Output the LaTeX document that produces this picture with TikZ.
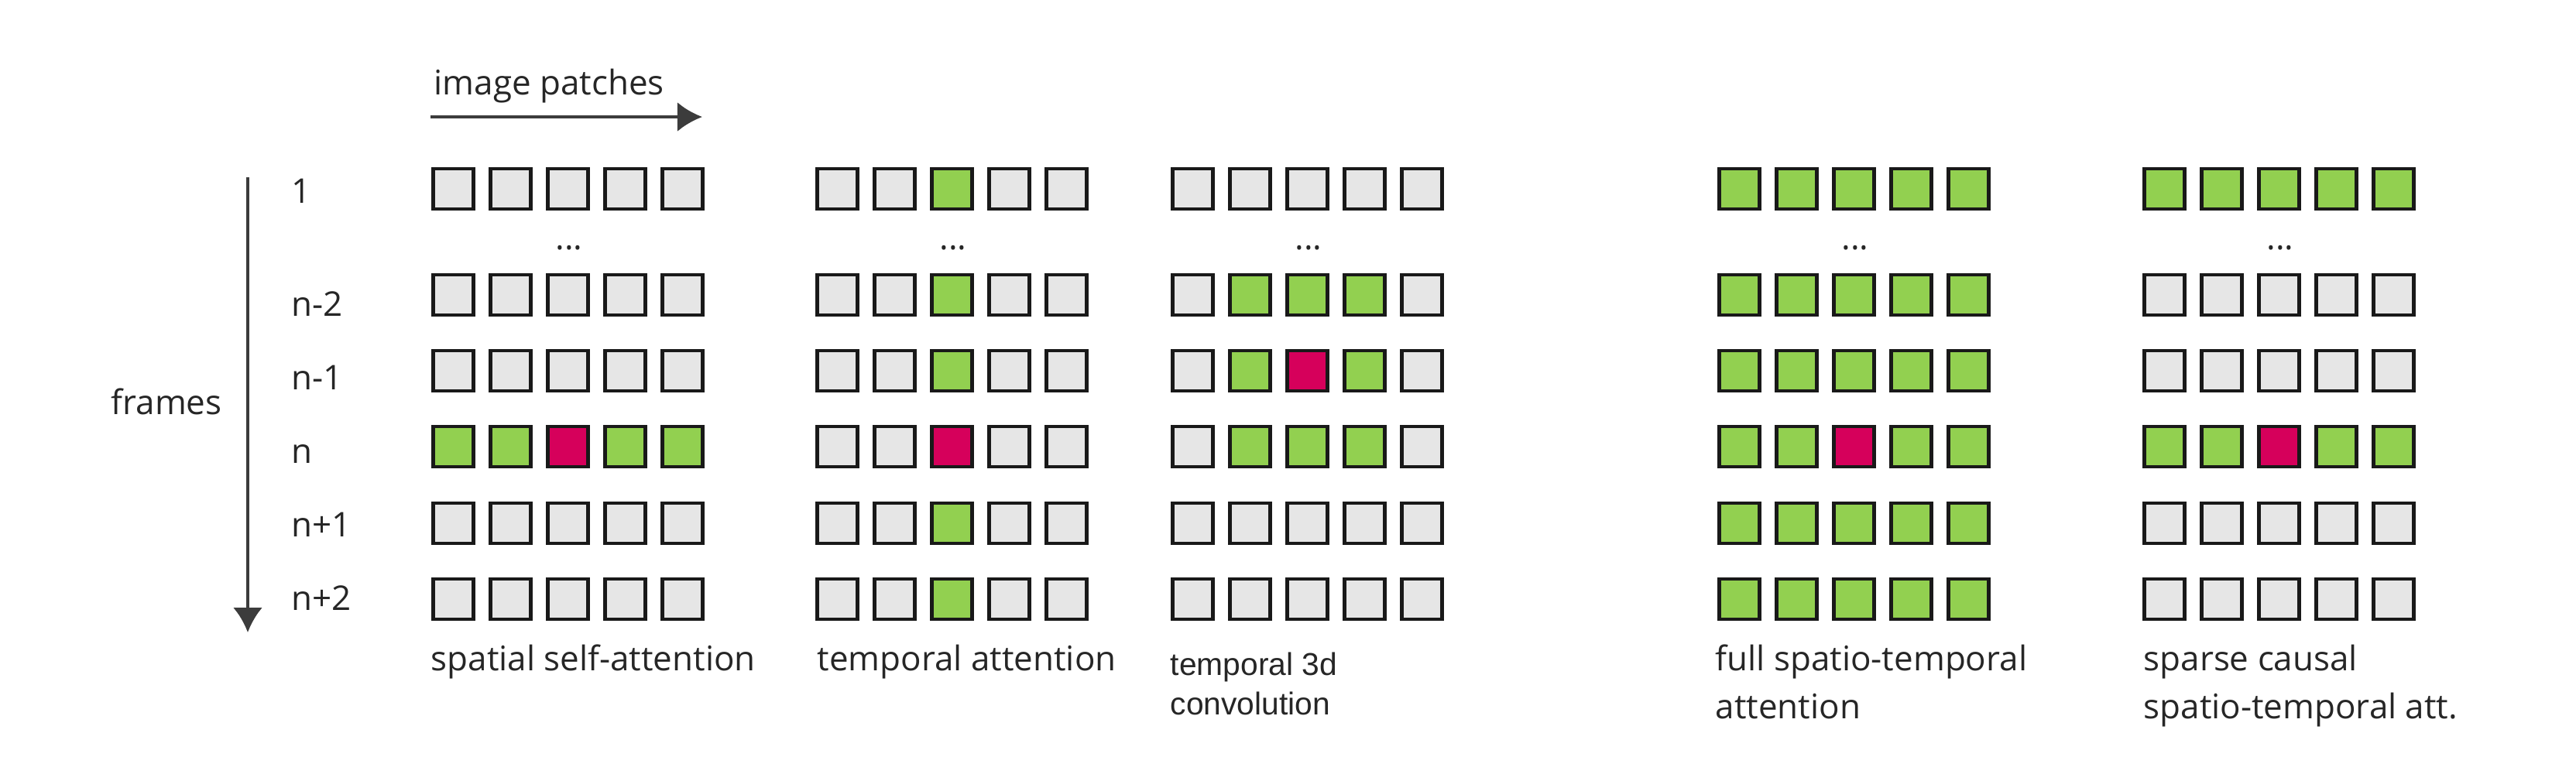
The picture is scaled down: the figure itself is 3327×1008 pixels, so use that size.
\documentclass[tikz,border=0pt]{standalone}
\usepackage{fontspec}
\setmainfont{Open Sans}
\newfontfamily\arialfont{Liberation Sans}
\usetikzlibrary{arrows.meta}

\definecolor{pgray}{HTML}{E6E6E6}
\definecolor{pgreen}{HTML}{92D050}
\definecolor{pred}{HTML}{D6005B}
\definecolor{ink}{HTML}{262626}

% one row of five patches: name, left x, y, colours
\newcommand{\patchrow}[4]{%
  \foreach \col [count=\i] in {#4}
    \node[patch,fill=\col] (#1-\i) at ({#2+28.5+74*(\i-1)},#3) {};}

\begin{document}
\begin{tikzpicture}[x=0.01cm,y=-0.01cm,
    patch/.style={draw=black!90,line width=1.3pt,inner sep=0,minimum size=0.52cm},
    lbl/.style={anchor=base west,inner sep=0,text=ink,font=\fontsize{12.5}{17.6}\selectfont},
    axis/.style={draw=ink!90,line width=1.2pt,-{Latex[length=3.2mm,width=3.8mm]}}]

\useasboundingbox (0,0) rectangle (3327,1008);

% axes
\coordinate (p0) at (556,151);
\coordinate (p1) at (907,151);
\coordinate (f0) at (320,229);
\coordinate (f1) at (320,817);
\draw[axis] (p0) -- (p1);
\draw[axis] (f0) -- (f1);
\node[lbl] (patches) at (560,122) {image patches};
\node[lbl] (frames) at (143,535) {frames};

% frame numbers
\node[lbl] (t1) at (376,262) {1};
\node[lbl] (t2) at (376,408) {n-2};
\node[lbl] (t3) at (376,503) {n-1};
\node[lbl] (t4) at (376,598) {n};
\node[lbl] (t5) at (376,693) {n+1};
\node[lbl] (t6) at (376,788) {n+2};

% spatial self-attention
\patchrow{sa-1}{557}{244}{pgray,pgray,pgray,pgray,pgray}
\patchrow{sa-2}{557}{381}{pgray,pgray,pgray,pgray,pgray}
\patchrow{sa-3}{557}{479}{pgray,pgray,pgray,pgray,pgray}
\patchrow{sa-4}{557}{577}{pgreen,pgreen,pred,pgreen,pgreen}
\patchrow{sa-5}{557}{676}{pgray,pgray,pgray,pgray,pgray}
\patchrow{sa-6}{557}{774}{pgray,pgray,pgray,pgray,pgray}

% temporal attention
\patchrow{ta-1}{1053}{244}{pgray,pgray,pgreen,pgray,pgray}
\patchrow{ta-2}{1053}{381}{pgray,pgray,pgreen,pgray,pgray}
\patchrow{ta-3}{1053}{479}{pgray,pgray,pgreen,pgray,pgray}
\patchrow{ta-4}{1053}{577}{pgray,pgray,pred,pgray,pgray}
\patchrow{ta-5}{1053}{676}{pgray,pgray,pgreen,pgray,pgray}
\patchrow{ta-6}{1053}{774}{pgray,pgray,pgreen,pgray,pgray}

% temporal 3d convolution
\patchrow{cv-1}{1512}{244}{pgray,pgray,pgray,pgray,pgray}
\patchrow{cv-2}{1512}{381}{pgray,pgreen,pgreen,pgreen,pgray}
\patchrow{cv-3}{1512}{479}{pgray,pgreen,pred,pgreen,pgray}
\patchrow{cv-4}{1512}{577}{pgray,pgreen,pgreen,pgreen,pgray}
\patchrow{cv-5}{1512}{676}{pgray,pgray,pgray,pgray,pgray}
\patchrow{cv-6}{1512}{774}{pgray,pgray,pgray,pgray,pgray}

% full spatio-temporal attention
\patchrow{fa-1}{2218}{244}{pgreen,pgreen,pgreen,pgreen,pgreen}
\patchrow{fa-2}{2218}{381}{pgreen,pgreen,pgreen,pgreen,pgreen}
\patchrow{fa-3}{2218}{479}{pgreen,pgreen,pgreen,pgreen,pgreen}
\patchrow{fa-4}{2218}{577}{pgreen,pgreen,pred,pgreen,pgreen}
\patchrow{fa-5}{2218}{676}{pgreen,pgreen,pgreen,pgreen,pgreen}
\patchrow{fa-6}{2218}{774}{pgreen,pgreen,pgreen,pgreen,pgreen}

% sparse causal attention
\patchrow{sc-1}{2767}{244}{pgreen,pgreen,pgreen,pgreen,pgreen}
\patchrow{sc-2}{2767}{381}{pgray,pgray,pgray,pgray,pgray}
\patchrow{sc-3}{2767}{479}{pgray,pgray,pgray,pgray,pgray}
\patchrow{sc-4}{2767}{577}{pgreen,pgreen,pred,pgreen,pgreen}
\patchrow{sc-5}{2767}{676}{pgray,pgray,pgray,pgray,pgray}
\patchrow{sc-6}{2767}{774}{pgray,pgray,pgray,pgray,pgray}

% skipped frames
\node[lbl,anchor=base] (sa-dots) at (735,322) {...};
\node[lbl,anchor=base] (ta-dots) at (1231,322) {...};
\node[lbl,anchor=base] (cv-dots) at (1690,322) {...};
\node[lbl,anchor=base] (fa-dots) at (2396,322) {...};
\node[lbl,anchor=base] (sc-dots) at (2945,322) {...};

% captions (base = last line)
\node[lbl] (sa-cap) at (556,866) {spatial self-attention};
\node[lbl] (ta-cap) at (1055,866) {temporal attention};
\node[lbl,align=left,font=\arialfont\fontsize{11.6}{14.5}\selectfont] (cv-cap) at (1511,923) {temporal 3d\\convolution};
\node[lbl,align=left] (fa-cap) at (2215,928) {full spatio-temporal\\attention};
\node[lbl,align=left] (sc-cap) at (2768,928) {sparse causal\\spatio-temporal att.};
\end{tikzpicture}
\end{document}
